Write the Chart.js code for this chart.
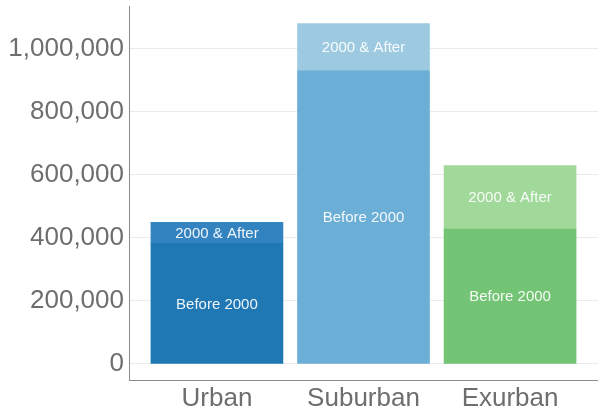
<!DOCTYPE html>
<html>
<head>
<meta charset="utf-8">
<script src="https://cdn.jsdelivr.net/npm/chart.js@4/dist/chart.umd.min.js"></script>
<style>
  html, body { margin: 0; padding: 0; background: #fff; }
  #wrap { width: 598px; height: 408px; position: relative; }
</style>
</head>
<body>
<div id="wrap"><canvas id="c" width="598" height="408"></canvas></div>
<script>
const categories = ["Urban", "Suburban", "Exurban"];
const seriesNames = ["Before 2000", "2000 & After"];
const beforeValues = [383000, 930000, 428000];
const afterValues = [66000, 150000, 201000];
const yTickValues = [0, 200000, 400000, 600000, 800000, 1000000];
const beforeColors = ["#1f77b4", "#6baed6", "#74c476"];
const afterColors = ["#3383c0", "#9ecae1", "#a1d99b"];

const FONT = "'Liberation Sans', Arial, Helvetica, sans-serif";

const segLabels = {
  id: 'segLabels',
  afterDatasetsDraw(chart) {
    const ctx = chart.ctx;
    ctx.save();
    ctx.font = "15px " + FONT;
    ctx.fillStyle = "rgba(255,255,255,0.92)";
    ctx.textAlign = "center";
    ctx.textBaseline = "middle";
    chart.data.datasets.forEach((ds, di) => {
      const meta = chart.getDatasetMeta(di);
      meta.data.forEach((el) => {
        ctx.fillText(ds.label, el.x, (el.y + el.base) / 2 + 1);
      });
    });
    ctx.restore();
  }
};

function zeroPad(scale) {
  scale.paddingTop = 0; scale.paddingBottom = 0;
  scale.paddingLeft = 0; scale.paddingRight = 0;
}

new Chart(document.getElementById('c'), {
  type: 'bar',
  data: {
    datasets: [
      {
        label: seriesNames[0],
        data: categories.map((c, i) => ({ x: i, y: beforeValues[i] })),
        backgroundColor: beforeColors,
        borderWidth: 0,
        barThickness: 132
      },
      {
        label: seriesNames[1],
        data: categories.map((c, i) => ({ x: i, y: afterValues[i] })),
        backgroundColor: afterColors,
        borderWidth: 0,
        barThickness: 132
      }
    ]
  },
  options: {
    responsive: false,
    animation: false,
    layout: { padding: { top: 6, right: 0, left: 0, bottom: 0 } },
    plugins: { legend: { display: false }, tooltip: { enabled: false } },
    scales: {
      x: {
        type: 'linear',
        stacked: true,
        offset: false,
        min: -0.6,
        max: 2.6,
        afterBuildTicks(scale) { scale.ticks = categories.map((c, i) => ({ value: i })); },
        afterFit(scale) { scale.height = 28; zeroPad(scale); },
        grid: { display: false, drawTicks: false, offset: false },
        border: { display: true, color: "#8a8a8a", width: 1 },
        ticks: {
          padding: 3,
          autoSkip: false,
          maxRotation: 0,
          color: "#6e6e6e",
          font: { family: FONT, size: 26 },
          callback: (v) => categories[v]
        }
      },
      y: {
        type: 'linear',
        stacked: true,
        min: -50750,
        max: 1135400,
        afterBuildTicks(scale) { scale.ticks = yTickValues.map(v => ({ value: v })); },
        afterFit(scale) { scale.width = 129; zeroPad(scale); },
        grid: { color: "#ebebeb", lineWidth: 1, drawTicks: false },
        border: { display: true, color: "#8a8a8a", width: 1 },
        ticks: {
          padding: 5,
          color: "#6e6e6e",
          font: { family: FONT, size: 26 },
          callback: (v) => Number(v).toLocaleString('en-US')
        }
      }
    }
  },
  plugins: [segLabels]
});
</script>
</body>
</html>
